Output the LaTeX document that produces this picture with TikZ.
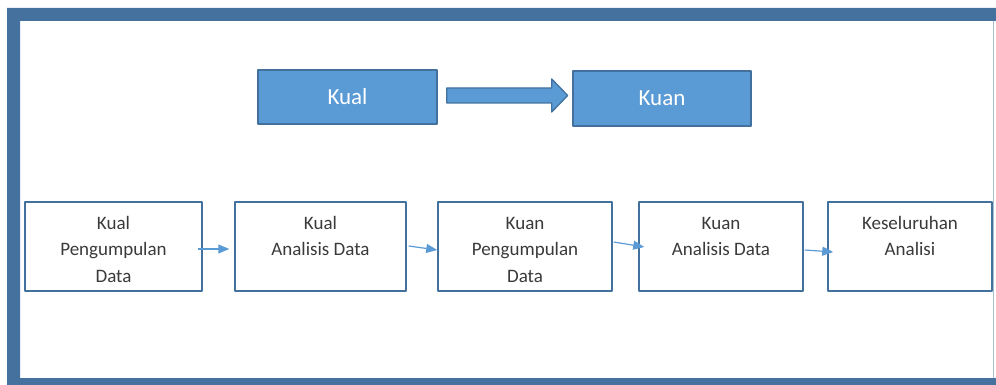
\documentclass[tikz,border=0pt]{standalone}
\usepackage{fontspec}
\setmainfont{Carlito}
\usetikzlibrary{arrows.meta}
\definecolor{frameblue}{HTML}{44719D}
\definecolor{boxblue}{HTML}{5B9BD5}
\definecolor{edgeblue}{HTML}{41719C}
\definecolor{textgray}{HTML}{3A3A3A}
\newcommand{\boxlines}[1]{\begin{tabular}[t]{@{}c@{}}#1\end{tabular}}
\tikzset{
	topbox/.style={draw=edgeblue, line width=1.4pt, fill=boxblue, text=white, inner sep=0pt, minimum height=54pt, font=\fontsize{23}{27}\selectfont},
	stepbox/.style={draw=edgeblue, line width=1.5pt, fill=white, text=textgray, inner sep=0pt, text height=27pt, text depth=62pt, font=\fontsize{19}{26.5}\selectfont},
	flow/.style={draw=boxblue, line width=1.2pt, -{Triangle[length=11pt,width=9pt]}}
}
\begin{document}
\begin{tikzpicture}[x=1pt, y=-1pt, line join=round]
		\useasboundingbox (0,0) rectangle (996,385);
		% frame
		\fill[frameblue] (7,8) rectangle (996,21) (7,8) rectangle (20,385) (7,378) rectangle (996,385);
		\draw[color=edgeblue!45, line width=1pt] (993,21)--(993,378);
		% top row
		\node[topbox, minimum width=179pt] (kual) at (347.5,97) {Kual};
		\node[topbox, minimum width=178pt, minimum height=55pt] (kuan) at (662,98.5) {Kuan};
		\draw[fill=boxblue, draw=edgeblue, line width=1.3pt] ([xshift=9pt,yshift=9pt]kual.east) -- ++(105,0) -- ++(0,-9) -- ++(16,16.5) -- ++(-16,16.5) -- ++(0,-9) -- ++(-105,0) -- cycle;
		% steps
		\node[stepbox, minimum width=177pt] (b1) at (113.5,246.5) {\boxlines{Kual\\Pengumpulan\\Data}};
		\node[stepbox, minimum width=171pt] (b2) at (320.5,246.5) {\boxlines{Kual\\Analisis Data}};
		\node[stepbox, minimum width=174pt] (b3) at (525,246.5) {\boxlines{Kuan\\Pengumpulan\\Data}};
		\node[stepbox, minimum width=164pt] (b4) at (721,246.5) {\boxlines{Kuan\\Analisis Data}};
		\node[stepbox, minimum width=164pt] (b5) at (910,246.5) {\boxlines{Keseluruhan\\Analisi}};
		\draw[flow] ([xshift=-5pt,yshift=-2.5pt]b1.east) -- ([xshift=-5pt,yshift=-2.5pt]b2.west);
		\draw[flow] ([xshift=2pt,yshift=0.5pt]b2.east) -- ([yshift=-3.5pt]b3.west);
		\draw[flow] ([xshift=1pt,yshift=4.5pt]b3.east) -- ([xshift=6pt,yshift=-0.5pt]b4.west);
		\draw[flow] ([xshift=1pt,yshift=-3.5pt]b4.east) -- ([xshift=6pt,yshift=-5.5pt]b5.west);
\end{tikzpicture}
\end{document}
